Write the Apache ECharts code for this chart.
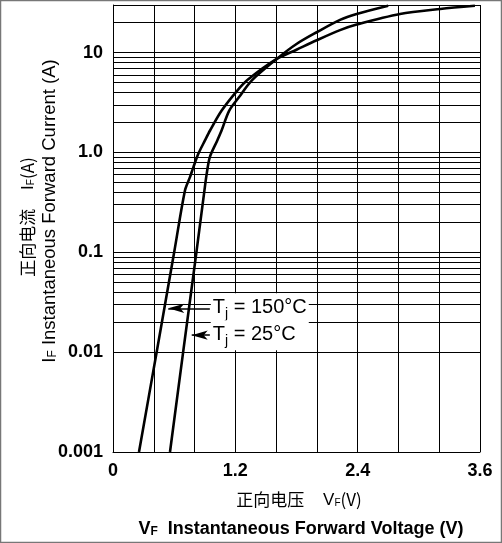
<!DOCTYPE html>
<html>
<head>
<meta charset="utf-8">
<script src="https://cdn.jsdelivr.net/npm/echarts@6/dist/echarts.min.js"></script>
<style>
html,body{margin:0;padding:0;background:#fff;}
#chart{width:502px;height:543px;}
</style>
</head>
<body>
<div id="chart"></div>
<script>
// forward voltage (V) vs forward current (A)
var curve150 = [
    [0.255, 0.001], [0.428, 0.01], [0.60, 0.1], [0.706, 0.417], [0.755, 0.566],
    [0.788, 0.71], [0.837, 0.97], [0.902, 1.32], [0.952, 1.66], [1.066, 2.63],
    [1.213, 4.1], [1.327, 5.4], [1.606, 8.65], [1.80, 10.7], [1.998, 13.3],
    [2.227, 16.8], [2.39, 19.1], [2.815, 24.4], [3.21, 27.4], [3.55, 29.5]
];
var curve25 = [
    [0.559, 0.001], [0.688, 0.01], [0.818, 0.1], [0.897, 0.417], [0.919, 0.61],
    [0.95, 0.9], [1.023, 1.32], [1.065, 1.66], [1.14, 2.63], [1.235, 3.57],
    [1.36, 5.25], [1.606, 8.65], [1.80, 12.2], [1.998, 16.0], [2.227, 21.3],
    [2.39, 24.4], [2.70, 29.5]
];

var xTickValues = [0, 1.2, 2.4, 3.6];
var xTickLabels = ['0', '1.2', '2.4', '3.6'];
var yTickValues = [0.001, 0.01, 0.1, 1, 10];
var yTickLabels = ['0.001', '0.01', '0.1', '1.0', '10'];

// log minor grid lines
var yMinorLines = [
    0.002, 0.003, 0.004, 0.005, 0.006, 0.007, 0.008, 0.009,
    0.02, 0.03, 0.04, 0.05, 0.06, 0.07, 0.08, 0.09,
    0.2, 0.3, 0.4, 0.5, 0.6, 0.7, 0.8, 0.9,
    2, 3, 4, 5, 6, 7, 8, 9,
    20
];

// arrow tip, arrow tail, text
var notes = [
    {tip: [0.542, 0.0275], tail: [0.95, 0.0275], text: '{t|T}{s|j}{t| = 150°C}'},
    {tip: [0.772, 0.0148], tail: [0.95, 0.0148], text: '{t|T}{s|j}{t| = 25°C}'}
];

var myChart = echarts.init(document.getElementById('chart'));

function pickLabel(v, vals, labels, tol) {
    for (var i = 0; i < vals.length; i++) {
        if (Math.abs(v - vals[i]) <= tol * Math.max(1, Math.abs(vals[i]))) return labels[i];
    }
    return '';
}

var noteLines = [];
for (var i = 0; i < notes.length; i++) {
    noteLines.push([
        {coord: notes[i].tip, symbol: 'arrow', symbolSize: [7, 16]},
        {coord: notes[i].tail, symbol: 'none',
            label: {show: true, position: 'end', formatter: notes[i].text}}
    ]);
}

var labelRich = {
    t: {fontFamily: 'Liberation Sans', fontSize: 20, color: '#000'},
    s: {fontFamily: 'Liberation Sans', fontSize: 14, color: '#000', padding: [13, 0, 0, 0]}
};

var option = {
    animation: false,
    backgroundColor: '#fff',
    grid: {left: 113, right: 22, top: 5, bottom: 91},
    xAxis: {
        type: 'value',
        min: 0,
        max: 3.6,
        interval: 0.4,
        axisLine: {show: true, lineStyle: {color: '#000', width: 1}},
        axisTick: {show: false},
        splitLine: {show: true, lineStyle: {color: '#000', width: 1}},
        axisLabel: {
            margin: 10,
            color: '#000',
            fontFamily: 'Liberation Sans',
            fontWeight: 'bold',
            fontSize: 18,
            showMinLabel: true,
            showMaxLabel: true,
            formatter: function (v) { return pickLabel(v, xTickValues, xTickLabels, 1e-6); }
        }
    },
    yAxis: {
        type: 'log',
        logBase: 10,
        min: 0.001,
        max: 30,
        axisLine: {show: true, lineStyle: {color: '#000', width: 1}},
        axisTick: {show: false},
        splitLine: {show: true, lineStyle: {color: '#000', width: 1}},
        axisLabel: {
            margin: 10,
            color: '#000',
            fontFamily: 'Liberation Sans',
            fontWeight: 'bold',
            fontSize: 18,
            formatter: function (v) { return pickLabel(v, yTickValues, yTickLabels, 1e-6); }
        }
    },
    series: [
        {
            type: 'line',
            data: [],
            silent: true,
            markLine: {
                silent: true,
                symbol: 'none',
                label: {show: false},
                lineStyle: {color: '#000', width: 1, type: 'solid'},
                data: yMinorLines.map(function (v) { return {yAxis: v}; })
            }
        },
        {
            name: 'Tj = 150°C',
            type: 'line',
            data: curve150,
            smooth: 0.3,
            showSymbol: false,
            lineStyle: {color: '#000', width: 2.6}
        },
        {
            name: 'Tj = 25°C',
            type: 'line',
            data: curve25,
            smooth: 0.3,
            showSymbol: false,
            lineStyle: {color: '#000', width: 2.6}
        },
        {
            type: 'line',
            data: [],
            silent: true,
            z: 5,
            markLine: {
                silent: true,
                lineStyle: {color: '#000', width: 1.5, type: 'solid'},
                label: {
                    show: true,
                    position: 'end',
                    distance: 1,
                    backgroundColor: '#fff',
                    padding: [1, 2, 2, 2],
                    rich: labelRich
                },
                data: noteLines
            }
        }
    ],
    graphic: [
        {
            type: 'rect',
            shape: {x: 0.5, y: 0.5, width: 501, height: 542},
            style: {fill: 'none', stroke: '#777', lineWidth: 1.5},
            silent: true
        },
        {
            type: 'text',
            x: 50, y: 211,
            rotation: Math.PI / 2,
            style: {
                text: '{b|I}{s|F}{b| Instantaneous Forward Current (A)}',
                align: 'center', verticalAlign: 'middle',
                rich: {
                    b: {fontFamily: 'Liberation Sans', fontSize: 18.5, color: '#000'},
                    s: {fontFamily: 'Liberation Sans', fontSize: 12, color: '#000', padding: [6, 0, 0, 0]}
                }
            }
        },
        {
            type: 'text',
            x: 28, y: 217,
            rotation: Math.PI / 2,
            style: {
                text: '{c|正向电流}{b|    I}{s|F}{c|(A)}',
                align: 'center', verticalAlign: 'middle',
                rich: {
                    c: {fontFamily: 'Noto Sans CJK SC', fontSize: 17, color: '#222'},
                    b: {fontFamily: 'Liberation Sans', fontSize: 17, color: '#222'},
                    s: {fontFamily: 'Liberation Sans', fontSize: 10, color: '#222', padding: [6, 0, 0, 0]}
                }
            }
        },
        {
            type: 'text',
            x: 299, y: 500,
            style: {
                text: '{c|正向电压}{b|    V}{s|F}{c|(V)}',
                align: 'center', verticalAlign: 'middle',
                rich: {
                    c: {fontFamily: 'Noto Sans CJK SC', fontSize: 17, color: '#222'},
                    b: {fontFamily: 'Liberation Sans', fontSize: 17, color: '#222'},
                    s: {fontFamily: 'Liberation Sans', fontSize: 10, color: '#222', padding: [6, 0, 0, 0]}
                }
            }
        },
        {
            type: 'text',
            x: 301, y: 529,
            style: {
                text: '{b|V}{s|F}{b|  Instantaneous Forward Voltage (V)}',
                align: 'center', verticalAlign: 'middle',
                rich: {
                    b: {fontFamily: 'Liberation Sans', fontSize: 18, fontWeight: 'bold', color: '#000'},
                    s: {fontFamily: 'Liberation Sans', fontSize: 12, fontWeight: 'bold', color: '#000', padding: [6, 0, 0, 0]}
                }
            }
        }
    ]
};

myChart.setOption(option);
</script>
</body>
</html>
